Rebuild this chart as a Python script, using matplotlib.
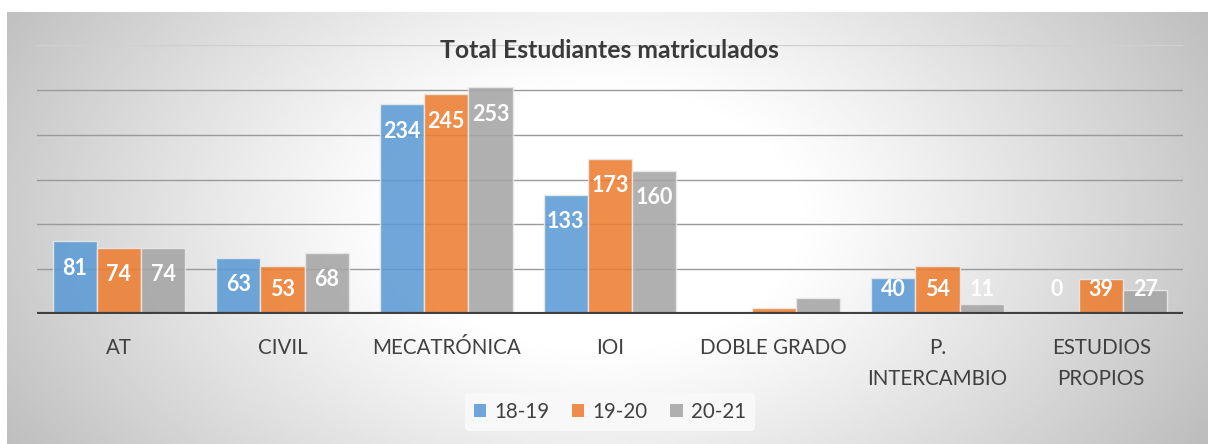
import numpy as np
import matplotlib.pyplot as plt
from matplotlib.patches import Patch

# data
categories = ['AT', 'CIVIL', 'MECATRÓNICA', 'IOI', 'DOBLE GRADO', 'P.\nINTERCAMBIO', 'ESTUDIOS\nPROPIOS']
series_names = ['18-19', '19-20', '20-21']
vals_1819 = [81, 63, 234, 133, 0, 40, 0]
vals_1920 = [74, 53, 245, 173, 7, 54, 39]
vals_2021 = [74, 68, 253, 160, 18, 11, 27]
# the reference shows no data labels for this category
unlabeled = ['DOBLE GRADO']

colors = ['#5B9BD5', '#ED7D31', '#A5A5A5']
W, H = 1208, 444

plt.rcParams['font.family'] = ['Lato', 'DejaVu Sans']

fig = plt.figure(figsize=(W / 100, H / 100), dpi=100)
fig.patch.set_facecolor('white')

# radial grey -> white background of the chart area
bg = fig.add_axes([7 / W, 0, 1 - 7 / W, (H - 12) / H])
xx, yy = np.meshgrid(np.linspace(7, W, 400), np.linspace(12, H, 200))
r = np.sqrt(((xx - 600) / 650) ** 2 + ((yy - 220) / 420) ** 2)
shade = 1 - 0.27 * np.clip((r - 0.3) / 0.8, 0, 1) ** 1.1
bg.imshow(shade, cmap='gray', vmin=0, vmax=1, aspect='auto', extent=[0, 1, 0, 1])
bg.axis('off')

ax = fig.add_axes([37 / W, 130 / H, (1183 - 37) / W, (399 - 130) / H])
ax.set_facecolor('none')

x = np.arange(len(categories))
w = 0.27
all_vals = [vals_1819, vals_1920, vals_2021]
for k, (vals, col) in enumerate(zip(all_vals, colors)):
    pos = x + (k - 1) * w
    ax.bar(pos, vals, width=w, color=col, alpha=0.88, edgecolor='#eaeaea',
           linewidth=1.0, zorder=3)
    for cat, px, v in zip(categories, pos, vals):
        if cat in unlabeled:
            continue
        ax.text(px, max(v - 30, 27), str(v), ha='center', va='center',
                color='white', fontsize=15.5, fontweight='bold', zorder=4)

ax.set_xlim(-0.5, len(categories) - 0.5)
ax.set_ylim(0, 300)
ax.set_yticks(range(50, 301, 50))
ax.yaxis.grid(True, color='#9a9a9a', linewidth=1.0, zorder=0)
ax.get_ygridlines()[-1].set_color('#d0d0d0')
ax.axhline(0, color='#404040', linewidth=3, zorder=5)
ax.tick_params(left=False, bottom=False, labelleft=False)
ax.set_xticks(x)
ax.set_xticklabels(categories, fontsize=14.8, color='#404040', linespacing=1.65)
ax.tick_params(axis='x', pad=14)
for s in ax.spines.values():
    s.set_visible(False)

fig.text(609 / W, 1 - 51 / H, 'Total Estudiantes matriculados', ha='center',
         va='center', fontsize=17.8, fontweight='bold', color='#3a3a3a')

handles = [Patch(facecolor=c, alpha=0.88, edgecolor='none') for c in colors]
leg = fig.legend(handles, series_names, loc='center', bbox_to_anchor=(610 / W, 1 - 412 / H),
                 ncol=3, frameon=True, fontsize=14.8, handlelength=0.6, handleheight=0.6,
                 handletextpad=0.4, columnspacing=1.1, borderpad=0.45)
leg.get_frame().set_facecolor('#f8f8f8')
leg.get_frame().set_edgecolor('none')
leg.get_frame().set_alpha(1)
for t in leg.get_texts():
    t.set_color('#404040')

fig.savefig('out.png', dpi=100)
